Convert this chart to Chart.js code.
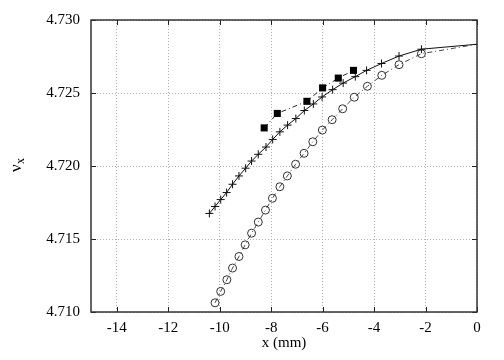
<!DOCTYPE html>
<html lang="en">
<head>
    <meta charset="UTF-8">
    <title>nu_x vs x</title>
    <script src="https://cdn.jsdelivr.net/npm/chart.js"></script>
    <style>
        body {
            margin: 0;
            background: #ffffff;
        }
        #chart {
            display: block;
        }
    </style>
</head>
<body>
    <canvas id="chart" width="504" height="360"></canvas>

    <script>
        // data
        const xTicks = [-14, -12, -10, -8, -6, -4, -2, 0];
        const yTicks = [4.710, 4.715, 4.720, 4.725, 4.730];

        const crossX = [-10.40, -10.18, -9.96, -9.73, -9.50, -9.25, -8.99, -8.76, -8.50, -8.20, -7.94, -7.66, -7.36,
            -7.04, -6.71, -6.36, -6.02, -5.61, -5.20, -4.73, -4.29, -3.71, -3.03, -2.16, 0];
        const crossY = [4.71675, 4.71723, 4.71770, 4.71818, 4.71875, 4.71932, 4.71985, 4.72034, 4.72080, 4.72130,
            4.72182, 4.72234, 4.72280, 4.72325, 4.72380, 4.72425, 4.72473, 4.72523, 4.72568, 4.72612, 4.72655,
            4.72702, 4.72753, 4.72800, 4.72834];

        const squareX = [-8.27, -7.76, -6.61, -6.00, -5.39, -4.80];
        const squareY = [4.72261, 4.72360, 4.72443, 4.72535, 4.72602, 4.72655];

        const circleX = [-10.18, -9.96, -9.72, -9.50, -9.25, -9.01, -8.76, -8.50, -8.22, -7.95, -7.66, -7.37, -7.05,
            -6.72, -6.38, -6.01, -5.63, -5.22, -4.77, -4.26, -3.70, -3.03, -2.16, 0];
        const circleY = [4.71063, 4.71141, 4.71221, 4.71301, 4.71380, 4.71460, 4.71540, 4.71616, 4.71698, 4.71779,
            4.71858, 4.71932, 4.72012, 4.72087, 4.72166, 4.72246, 4.72317, 4.72392, 4.72471, 4.72546, 4.72621,
            4.72694, 4.72769, 4.72834];

        function pts(xs, ys) {
            return xs.map((x, i) => ({ x: x, y: ys[i] }));
        }

        const serif = "'Liberation Serif', 'DejaVu Serif', serif";
        // no marker where the curve meets the right border
        const hideAtZero = r => ctx => (ctx.raw && ctx.raw.x === 0 ? 0 : r);

        // frame + inward ticks + y label, gnuplot style
        const framePlugin = {
            id: 'frame',
            afterDraw(chart) {
                const ctx = chart.ctx;
                const a = chart.chartArea;
                const xs = chart.scales.x, ys = chart.scales.y;
                ctx.save();
                ctx.strokeStyle = '#222';
                ctx.lineWidth = 1;
                ctx.beginPath();
                xTicks.forEach(v => {
                    const px = Math.round(xs.getPixelForValue(v)) + 0.5;
                    ctx.moveTo(px, a.bottom); ctx.lineTo(px, a.bottom - 5);
                    ctx.moveTo(px, a.top); ctx.lineTo(px, a.top + 5);
                });
                yTicks.forEach(v => {
                    const py = Math.round(ys.getPixelForValue(v)) + 0.5;
                    ctx.moveTo(a.left, py); ctx.lineTo(a.left + 5, py);
                    ctx.moveTo(a.right, py); ctx.lineTo(a.right - 5, py);
                });
                ctx.stroke();
                ctx.strokeStyle = '#333';
                ctx.lineWidth = 1.5;
                ctx.strokeRect(a.left, a.top, a.right - a.left, a.bottom - a.top);

                // y axis title: nu with subscript x, rotated
                ctx.translate(17, 166);
                ctx.rotate(-Math.PI / 2);
                ctx.fillStyle = '#000';
                ctx.textBaseline = 'middle';
                ctx.textAlign = 'left';
                ctx.font = '17px ' + serif;
                ctx.fillText('ν', -6, 0);
                ctx.font = '12px ' + serif;
                ctx.fillText('x', 2, 4);
                ctx.restore();
            }
        };

        const chart = new Chart(document.getElementById('chart'), {
            type: 'scatter',
            data: {
                datasets: [
                    {
                        data: pts(crossX, crossY),
                        showLine: true,
                        borderColor: '#111',
                        borderWidth: 1,
                        pointStyle: 'cross',
                        pointRadius: hideAtZero(4),
                        pointBorderColor: '#111',
                        pointBorderWidth: 1
                    },
                    {
                        data: pts(squareX, squareY),
                        showLine: true,
                        borderColor: '#222',
                        borderWidth: 1,
                        borderDash: [5, 3, 1, 3],
                        pointStyle: 'rect',
                        pointRadius: 5,
                        pointBackgroundColor: '#000',
                        pointBorderColor: '#000',
                        pointBorderWidth: 0
                    },
                    {
                        data: pts(circleX, circleY),
                        showLine: true,
                        borderColor: '#444',
                        borderWidth: 1,
                        borderDash: [5, 3, 1, 3],
                        pointStyle: 'circle',
                        pointRadius: hideAtZero(4),
                        pointBackgroundColor: 'rgba(0,0,0,0)',
                        pointBorderColor: '#333',
                        pointBorderWidth: 1
                    }
                ]
            },
            options: {
                responsive: false,
                animation: false,
                devicePixelRatio: 1,
                layout: { padding: { top: 18, right: 27, left: 0, bottom: 0 } },
                plugins: {
                    legend: { display: false },
                    tooltip: { enabled: false }
                },
                scales: {
                    x: {
                        type: 'linear',
                        min: -15,
                        max: 0,
                        afterBuildTicks: s => { s.ticks = xTicks.map(v => ({ value: v })); },
                        afterFit: s => { s.height = 48; },
                        grid: { color: '#b0b0b0', lineWidth: 1, drawTicks: false },
                        border: { display: false, dash: [1, 2] },
                        ticks: {
                            color: '#000',
                            padding: 7,
                            maxRotation: 0,
                            font: { family: serif, size: 15 },
                            callback: v => String(v)
                        },
                        title: {
                            display: true,
                            text: 'x (mm)',
                            color: '#000',
                            padding: { top: 0, bottom: 8 },
                            font: { family: serif, size: 15 }
                        }
                    },
                    y: {
                        type: 'linear',
                        min: 4.710,
                        max: 4.730,
                        afterBuildTicks: s => { s.ticks = yTicks.map(v => ({ value: v })); },
                        afterFit: s => { s.width = 91; },
                        grid: { color: '#b0b0b0', lineWidth: 1, drawTicks: false },
                        border: { display: false, dash: [1, 2] },
                        ticks: {
                            color: '#000',
                            padding: 11,
                            font: { family: serif, size: 15 },
                            callback: v => v.toFixed(3)
                        }
                    }
                }
            },
            plugins: [framePlugin]
        });
    </script>
</body>
</html>
